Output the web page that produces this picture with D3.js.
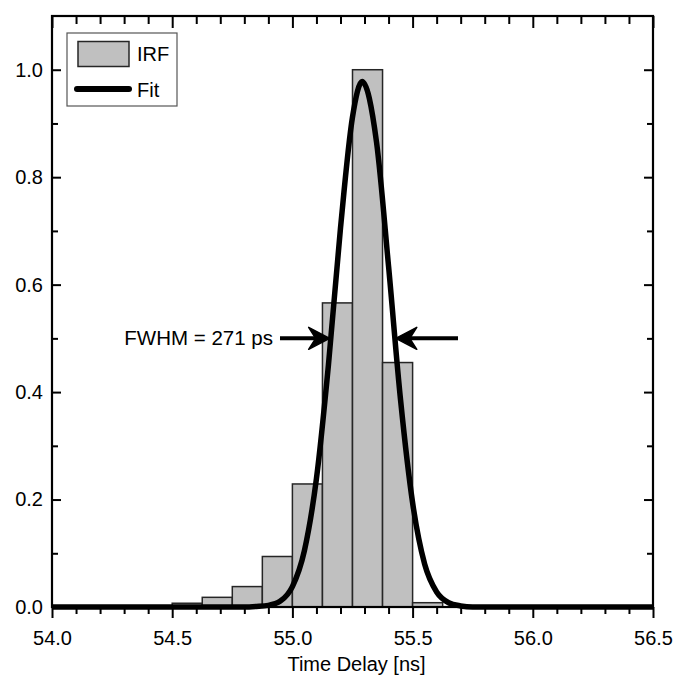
<!DOCTYPE html>
<html>
<head>
<meta charset="utf-8">
<script src="https://cdn.jsdelivr.net/npm/d3@7"></script>
<style>
	body { margin: 0; background: #fff; }
	text { font-family: "Liberation Sans", Arial, sans-serif; fill: #000; }
</style>
</head>
<body>
<svg id="chart" width="681" height="675"></svg>
<script>
// IRF histogram (bin edges in ns, normalised counts)
var binEdges = [54.5, 54.625, 54.75, 54.875, 55.0, 55.125, 55.25, 55.375, 55.5, 55.625];
var irfValues = [0.007, 0.018, 0.038, 0.094, 0.229, 0.566, 1.0, 0.455, 0.008];

// Fit curve
var fitX = [54.0, 54.8, 54.85, 54.9, 54.95, 55.0, 55.05, 55.1, 55.15, 55.2, 55.25, 55.29,
	55.35, 55.4, 55.45, 55.5, 55.55, 55.6, 55.65, 55.7, 55.75, 56.5];
var fitY = [0, 0, 0.001, 0.003, 0.011, 0.038, 0.105, 0.239, 0.451, 0.705, 0.912, 0.978,
	0.865, 0.634, 0.385, 0.194, 0.080, 0.028, 0.008, 0.002, 0, 0];

var xMajor = [54.0, 54.5, 55.0, 55.5, 56.0, 56.5];
var xMinor = [54.1, 54.2, 54.3, 54.4, 54.6, 54.7, 54.8, 54.9, 55.1, 55.2, 55.3, 55.4,
	55.6, 55.7, 55.8, 55.9, 56.1, 56.2, 56.3, 56.4];
var yMajor = [0.0, 0.2, 0.4, 0.6, 0.8, 1.0];
var yMinor = [0.1, 0.3, 0.5, 0.7, 0.9];

var xLabel = "Time Delay [ns]";
var fwhmLabel = "FWHM = 271 ps";
var fwhmLeft = 55.155, fwhmRight = 55.43, fwhmLevel = 0.5;

var margin = {left: 52, top: 16, right: 28, bottom: 68};
var width = 681 - margin.left - margin.right;
var height = 675 - margin.top - margin.bottom;

var svg = d3.select("#chart");
var g = svg.append("g").attr("transform", "translate(" + margin.left + "," + margin.top + ")");

var x = d3.scaleLinear().domain([54.0, 56.5]).range([0, width]);
var y = d3.scaleLinear().domain([0, 1.1]).range([height, 0]);

// Histogram bars
var bins = irfValues.map(function(v, i) {
	return {x0: binEdges[i], x1: binEdges[i + 1], v: v};
});
g.append("g").selectAll("rect").data(bins).enter().append("rect")
	.attr("x", function(d) { return x(d.x0); })
	.attr("width", function(d) { return x(d.x1) - x(d.x0); })
	.attr("y", function(d) { return y(d.v); })
	.attr("height", function(d) { return y(0) - y(d.v); })
	.attr("fill", "#c0c0c0")
	.attr("stroke", "#262626")
	.attr("stroke-width", 1.5);

// Fit line
var line = d3.line()
	.x(function(d) { return x(d[0]); })
	.y(function(d) { return y(d[1]); })
	.curve(d3.curveMonotoneX);
g.append("path")
	.datum(fitX.map(function(v, i) { return [v, fitY[i]]; }))
	.attr("d", line)
	.attr("fill", "none")
	.attr("stroke", "#000")
	.attr("stroke-width", 5.5)
	.attr("stroke-linejoin", "round");

// Axes
function styleAxis(sel) {
	sel.select(".domain").remove();
	sel.selectAll(".tick line").attr("stroke", "#000").attr("stroke-width", 2);
	sel.selectAll(".tick text").style("font-size", "20px")
		.style("font-family", "'Liberation Sans', Arial, sans-serif");
}

g.append("g").attr("transform", "translate(0," + height + ")")
	.call(d3.axisBottom(x).tickValues(xMajor).tickSize(11).tickFormat(d3.format(".1f")))
	.call(styleAxis)
	.call(function(s) { s.selectAll(".tick text").attr("y", 38).attr("dy", 0); });
g.append("g").attr("transform", "translate(0," + height + ")")
	.call(d3.axisBottom(x).tickValues(xMinor).tickSize(7).tickFormat(""))
	.call(styleAxis);

g.append("g")
	.call(d3.axisTop(x).tickValues(xMajor).tickSize(-12).tickFormat(""))
	.call(styleAxis);
g.append("g")
	.call(d3.axisTop(x).tickValues(xMinor).tickSize(-8).tickFormat(""))
	.call(styleAxis);

g.append("g")
	.call(d3.axisLeft(y).tickValues(yMajor).tickSize(-9).tickPadding(9).tickFormat(d3.format(".1f")))
	.call(styleAxis);
g.append("g")
	.call(d3.axisLeft(y).tickValues(yMinor).tickSize(-6).tickFormat(""))
	.call(styleAxis);

g.append("g").attr("transform", "translate(" + width + ",0)")
	.call(d3.axisRight(y).tickValues(yMajor).tickSize(-9).tickFormat(""))
	.call(styleAxis);
g.append("g").attr("transform", "translate(" + width + ",0)")
	.call(d3.axisRight(y).tickValues(yMinor).tickSize(-6).tickFormat(""))
	.call(styleAxis);

// Frame
g.append("rect")
	.attr("width", width).attr("height", height)
	.attr("fill", "none").attr("stroke", "#000").attr("stroke-width", 2.2);

g.append("text")
	.attr("x", width / 2 + 4).attr("y", height + 64)
	.attr("text-anchor", "middle")
	.style("font-size", "20px")
	.text(xLabel);

// FWHM annotation
function arrow(tipX, tipY, dir, len) {
	// dir = 1: points right, -1: points left
	var a = g.append("g").attr("transform", "translate(" + tipX + "," + tipY + ") scale(" + (-dir) + ",1)");
	a.append("line").attr("x1", 12).attr("x2", len).attr("y1", 0).attr("y2", 0)
		.attr("stroke", "#000").attr("stroke-width", 4);
	a.append("path").attr("d", "M0,0 L21,-11 L14,0 L21,11 Z")
		.attr("fill", "#000").attr("stroke", "#000").attr("stroke-width", 1.5)
		.attr("stroke-linejoin", "round");
}
arrow(x(fwhmLeft), y(fwhmLevel), 1, x(fwhmLeft) - 228);
arrow(x(fwhmRight), y(fwhmLevel), -1, 406 - x(fwhmRight));

g.append("text")
	.attr("x", 221).attr("y", y(fwhmLevel) + 7)
	.attr("text-anchor", "end")
	.style("font-size", "20.5px")
	.text(fwhmLabel);

// Legend
var legend = g.append("g").attr("transform", "translate(15,17)");
legend.append("rect")
	.attr("width", 110).attr("height", 73)
	.attr("fill", "#fff").attr("stroke", "#555").attr("stroke-width", 1.2);
legend.append("rect")
	.attr("x", 11).attr("y", 8.5).attr("width", 51).attr("height", 25)
	.attr("fill", "#c0c0c0").attr("stroke", "#262626").attr("stroke-width", 1.5);
legend.append("line")
	.attr("x1", 10).attr("x2", 62).attr("y1", 56).attr("y2", 56)
	.attr("stroke", "#000").attr("stroke-width", 6).attr("stroke-linecap", "round");
legend.append("text").attr("x", 70).attr("y", 27.5).style("font-size", "20px").text("IRF");
legend.append("text").attr("x", 70).attr("y", 64).style("font-size", "20px").text("Fit");
</script>
</body>
</html>
